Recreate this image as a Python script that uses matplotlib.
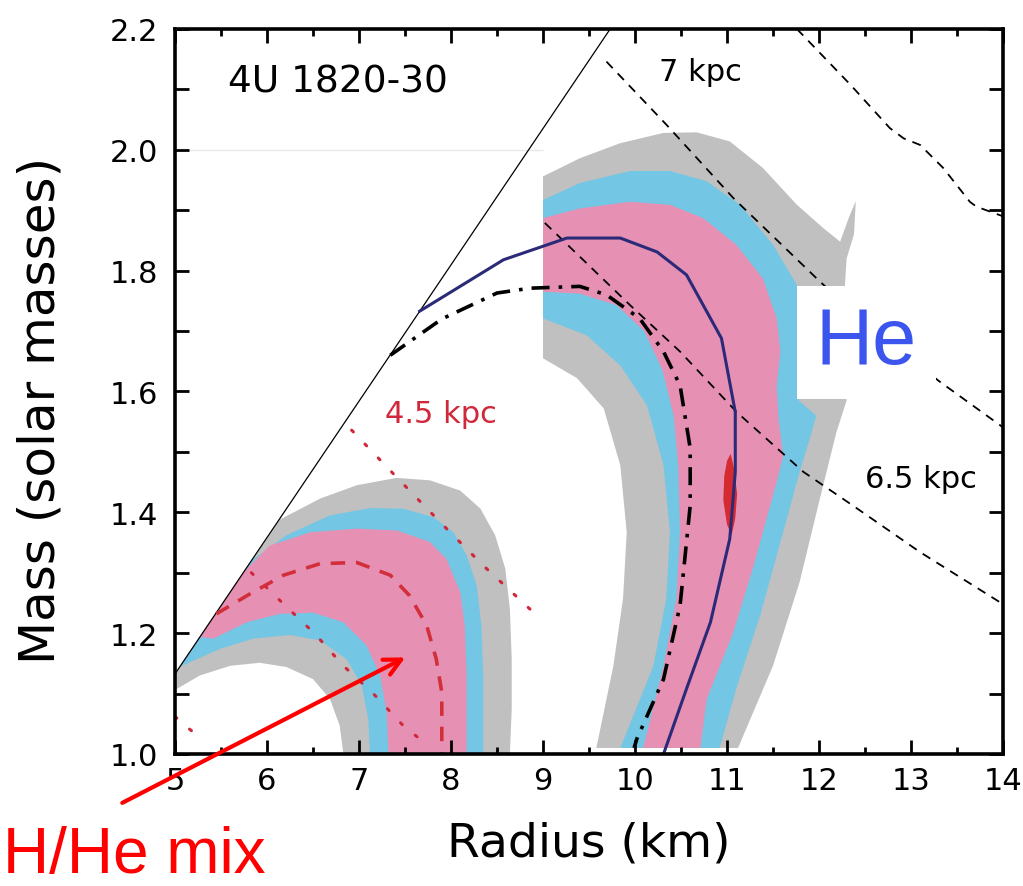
import numpy as np
import matplotlib
matplotlib.use("Agg")
import matplotlib.pyplot as plt
from matplotlib.ticker import MultipleLocator, FormatStrFormatter

# ------------------------------------------------------------
# Data (radius in km, mass in solar masses)
# ------------------------------------------------------------

# causality limit line
causal_r = [5.0, 9.73]
causal_m = [1.1326, 2.2]

# H/He mix contours (left group): outer edge then inner edge
mix_gray_outer_r = [5.0, 5.5, 6.14, 6.58, 6.98, 7.41, 7.77, 8.10, 8.32, 8.48, 8.59, 8.64, 8.66, 8.66, 8.64]
mix_gray_outer_m = [1.133, 1.245, 1.388, 1.423, 1.445, 1.457, 1.453, 1.436, 1.406, 1.362, 1.307, 1.240, 1.157, 1.075, 1.0]
mix_gray_inner_r = [6.83, 6.79, 6.685, 6.50, 6.21, 5.92, 5.60, 5.27, 5.0]
mix_gray_inner_m = [1.0, 1.047, 1.091, 1.124, 1.144, 1.151, 1.146, 1.130, 1.106]

mix_blue_outer_r = [5.05, 5.83, 6.21, 6.685, 7.12, 7.48, 7.81, 8.025, 8.17, 8.28, 8.33, 8.35, 8.35]
mix_blue_outer_m = [1.144, 1.320, 1.362, 1.395, 1.407, 1.406, 1.392, 1.367, 1.329, 1.279, 1.213, 1.130, 1.0]
mix_blue_inner_r = [7.12, 7.10, 7.03, 6.866, 6.576, 6.25, 5.85, 5.49, 5.163, 5.05]
mix_blue_inner_m = [1.0, 1.058, 1.113, 1.157, 1.188, 1.197, 1.191, 1.174, 1.152, 1.144]

mix_pink_outer_r = [5.27, 5.75, 6.03, 6.47, 6.975, 7.41, 7.77, 7.95, 8.10, 8.15, 8.17, 8.17]
mix_pink_outer_m = [1.1935, 1.302, 1.345, 1.367, 1.373, 1.370, 1.351, 1.323, 1.268, 1.213, 1.130, 1.0]
mix_pink_inner_r = [7.32, 7.30, 7.23, 7.08, 6.83, 6.50, 6.14, 5.78, 5.417, 5.27]
mix_pink_inner_m = [1.0, 1.069, 1.13, 1.18, 1.218, 1.234, 1.232, 1.218, 1.191, 1.1935]

# pure He contours (right group)
he_gray_outer_r = [9.0, 9.40, 9.84, 10.31, 10.67, 11.03, 11.39, 11.76, 12.05, 12.23, 12.33, 12.40, 12.38,
                   12.30, 12.25, 12.30, 12.19, 12.01, 11.79, 11.50, 11.12]
he_gray_outer_m = [1.956, 1.986, 2.011, 2.028, 2.029, 2.014, 1.970, 1.909, 1.870, 1.848, 1.89, 1.915, 1.86,
                   1.82, 1.70, 1.585, 1.533, 1.423, 1.285, 1.146, 1.01]
he_gray_inner_r = [9.58, 9.765, 9.87, 9.91, 9.84, 9.66, 9.37, 9.0]
he_gray_inner_m = [1.01, 1.146, 1.257, 1.367, 1.478, 1.572, 1.622, 1.655]

he_blue_outer_r = [9.0, 9.40, 9.946, 10.38, 10.78, 11.14, 11.50, 11.76, 11.85, 11.80, 11.78, 11.97, 11.90,
                   11.79, 11.61, 11.36, 11.10, 10.92]
he_blue_outer_m = [1.917, 1.945, 1.965, 1.965, 1.948, 1.909, 1.843, 1.776, 1.70, 1.62, 1.585, 1.56, 1.522,
                   1.467, 1.367, 1.229, 1.108, 1.01]
he_blue_inner_r = [9.84, 10.20, 10.34, 10.38, 10.31, 10.13, 9.84, 9.475, 9.0]
he_blue_inner_m = [1.01, 1.146, 1.257, 1.367, 1.478, 1.577, 1.643, 1.693, 1.721]

he_pink_outer_r = [9.0, 9.40, 9.946, 10.38, 10.74, 11.10, 11.39, 11.54, 11.58, 11.54, 11.56, 11.61, 11.54,
                   11.29, 11.07, 10.78, 10.71]
he_pink_outer_m = [1.887, 1.903, 1.914, 1.909, 1.887, 1.843, 1.787, 1.721, 1.666, 1.61, 1.555, 1.494, 1.45,
                   1.312, 1.202, 1.091, 1.01]
he_pink_inner_r = [10.09, 10.31, 10.45, 10.49, 10.47, 10.42, 10.30, 10.10, 9.8, 9.40, 9.0]
he_pink_inner_m = [1.01, 1.146, 1.257, 1.367, 1.478, 1.56, 1.635, 1.70, 1.743, 1.762, 1.765]

# small red best-fit region
best_r = [11.04, 11.08, 11.11, 11.09, 11.05, 11.00, 10.96, 10.97, 11.00]
best_m = [1.497, 1.47, 1.43, 1.39, 1.362, 1.38, 1.42, 1.46, 1.485]

# distance curves (black dashed)
d7_r = [9.69, 10.345, 11.07, 12.01, 12.6, 13.315, 13.97, 14.0]
d7_m = [2.146, 2.041, 1.92, 1.782, 1.70, 1.616, 1.544, 1.54]
dfar_r = [11.76, 12.34, 12.77, 12.92, 13.1, 13.35, 13.64, 13.71, 14.0]
dfar_m = [2.2, 2.108, 2.036, 2.019, 2.008, 1.97, 1.914, 1.906, 1.89]
d65_r = [9.02, 9.946, 10.49, 11.105, 11.83, 12.37, 13.10, 14.0]
d65_m = [1.879, 1.743, 1.666, 1.566, 1.467, 1.411, 1.334, 1.248]

# distance curves (red dotted)
d45_r = [6.92, 7.41, 7.88, 8.35, 8.97]
d45_m = [1.536, 1.458, 1.384, 1.312, 1.224]
dred2_r = [5.83, 6.196, 6.52, 6.83, 7.155, 7.48, 7.66]
dred2_m = [1.30, 1.246, 1.199, 1.146, 1.10, 1.047, 1.025]
dred3_r = [5.0, 5.11, 5.29]
dred3_m = [1.062, 1.047, 1.025]

# model curves
mix_model_r = [5.45, 5.815, 6.18, 6.576, 6.975, 7.34, 7.55, 7.735, 7.84, 7.90, 7.90]
mix_model_m = [1.232, 1.265, 1.296, 1.315, 1.317, 1.296, 1.262, 1.213, 1.157, 1.102, 1.0]
he_model_r = [7.66, 8.57, 9.26, 9.84, 10.24, 10.56, 10.94, 11.09, 11.09, 11.03, 10.82, 10.56, 10.31]
he_model_m = [1.733, 1.818, 1.854, 1.854, 1.831, 1.793, 1.688, 1.566, 1.467, 1.356, 1.218, 1.108, 1.0]
alt_model_r = [7.34, 7.9, 8.5, 8.86, 9.4, 9.69, 10.05, 10.31, 10.49, 10.6, 10.6, 10.49, 10.31, 10.02, 9.99]
alt_model_m = [1.66, 1.72, 1.763, 1.771, 1.774, 1.76, 1.721, 1.666, 1.61, 1.506, 1.411, 1.246, 1.124, 1.025, 1.01]

GRAY = "#c0c0c0"
BLUE = "#73c6e4"
PINK = "#e691b4"


def fill_band(ax, outer_r, outer_m, inner_r, inner_m, color):
    """Fill a horseshoe band: outer edge followed by inner edge."""
    ax.fill(list(outer_r) + list(inner_r), list(outer_m) + list(inner_m),
            color=color, lw=0, zorder=1)


fig = plt.figure(figsize=(10.23, 8.87), dpi=100)
ax = fig.add_axes([175 / 1023, 132 / 887, 828 / 1023, 725 / 887])

# ------------------------------------------------------------
# Confidence regions
# ------------------------------------------------------------

fill_band(ax, mix_gray_outer_r, mix_gray_outer_m, mix_gray_inner_r, mix_gray_inner_m, GRAY)
fill_band(ax, mix_blue_outer_r, mix_blue_outer_m, mix_blue_inner_r, mix_blue_inner_m, BLUE)
fill_band(ax, mix_pink_outer_r, mix_pink_outer_m, mix_pink_inner_r, mix_pink_inner_m, PINK)

fill_band(ax, he_gray_outer_r, he_gray_outer_m, he_gray_inner_r, he_gray_inner_m, GRAY)
fill_band(ax, he_blue_outer_r, he_blue_outer_m, he_blue_inner_r, he_blue_inner_m, BLUE)
fill_band(ax, he_pink_outer_r, he_pink_outer_m, he_pink_inner_r, he_pink_inner_m, PINK)

ax.fill(best_r, best_m, color="#d42a30", lw=0, zorder=2)

# ------------------------------------------------------------
# Lines
# ------------------------------------------------------------

ax.hlines(2.0, 5.0, 9.0, color="#e8e8e8", lw=1, zorder=0)
ax.plot(causal_r, causal_m, color="black", lw=0.9, zorder=3)

for r, m in [(d7_r, d7_m), (dfar_r, dfar_m), (d65_r, d65_m)]:
    ax.plot(r, m, color="black", lw=1.3, dashes=(5, 4), zorder=3)

for r, m in [(d45_r, d45_m), (dred2_r, dred2_m), (dred3_r, dred3_m)]:
    ax.plot(r, m, color="#d0283a", lw=2.2, dashes=(0.8, 5.5), dash_capstyle="round", zorder=3)

ax.plot(mix_model_r, mix_model_m, color="#d32f3a", lw=2.6, dashes=(4, 3), zorder=4)
ax.plot(he_model_r, he_model_m, color="#2b2a78", lw=2.2, zorder=4)
ax.plot(alt_model_r, alt_model_m, color="black", lw=2.6, dashes=(5, 2.5, 1, 2.5), zorder=4)

# ------------------------------------------------------------
# Labels
# ------------------------------------------------------------

ax.text(5.576, 2.097, "4U 1820-30", fontsize=27, color="black", zorder=6)
ax.text(10.26, 2.116, "7 kpc", fontsize=22, color="black", zorder=6)
ax.text(12.5, 1.4426, "6.5 kpc", fontsize=22, color="black", zorder=6)
ax.text(7.283, 1.5498, "4.5 kpc", fontsize=22, color="#d0283a", zorder=6)

ax.text(12.516, 1.681, "He", fontsize=57, color="#3c55ef", family="Liberation Sans",
        ha="center", va="center", zorder=8,
        bbox=dict(boxstyle="square,pad=0.24", fc="white", ec="none"))

fig.text(0.003, 0.001, "H/He mix", fontsize=46, color="#ff0000", family="Liberation Sans",
         ha="left", va="bottom")
ax.annotate("", xy=(7.53, 1.162), xytext=(4.40, 0.917),
            arrowprops=dict(arrowstyle="->", color="#ff0000", lw=3, mutation_scale=30),
            annotation_clip=False, zorder=9)

# ------------------------------------------------------------
# Axes
# ------------------------------------------------------------

ax.set_xlim(5, 14)
ax.set_ylim(1.0, 2.2)
ax.xaxis.set_major_locator(MultipleLocator(1))
ax.xaxis.set_minor_locator(MultipleLocator(0.5))
ax.yaxis.set_major_locator(MultipleLocator(0.2))
ax.yaxis.set_minor_locator(MultipleLocator(0.1))
ax.yaxis.set_major_formatter(FormatStrFormatter("%.1f"))

ax.tick_params(which="both", direction="in", top=True, right=True, width=2, labelsize=22)
ax.tick_params(axis="x", which="major", length=10, pad=9)
ax.tick_params(axis="x", which="minor", length=5)
ax.tick_params(axis="y", which="both", length=10, pad=12)

for spine in ax.spines.values():
    spine.set_linewidth(2.6)
    spine.set_zorder(7)

ax.set_xlabel("Radius (km)", fontsize=34)
ax.xaxis.set_label_coords(0.5, -0.092)
ax.set_ylabel("Mass (solar masses)", fontsize=36)
ax.yaxis.set_label_coords(-0.133, 0.475)

fig.savefig("out.png", dpi=100)
